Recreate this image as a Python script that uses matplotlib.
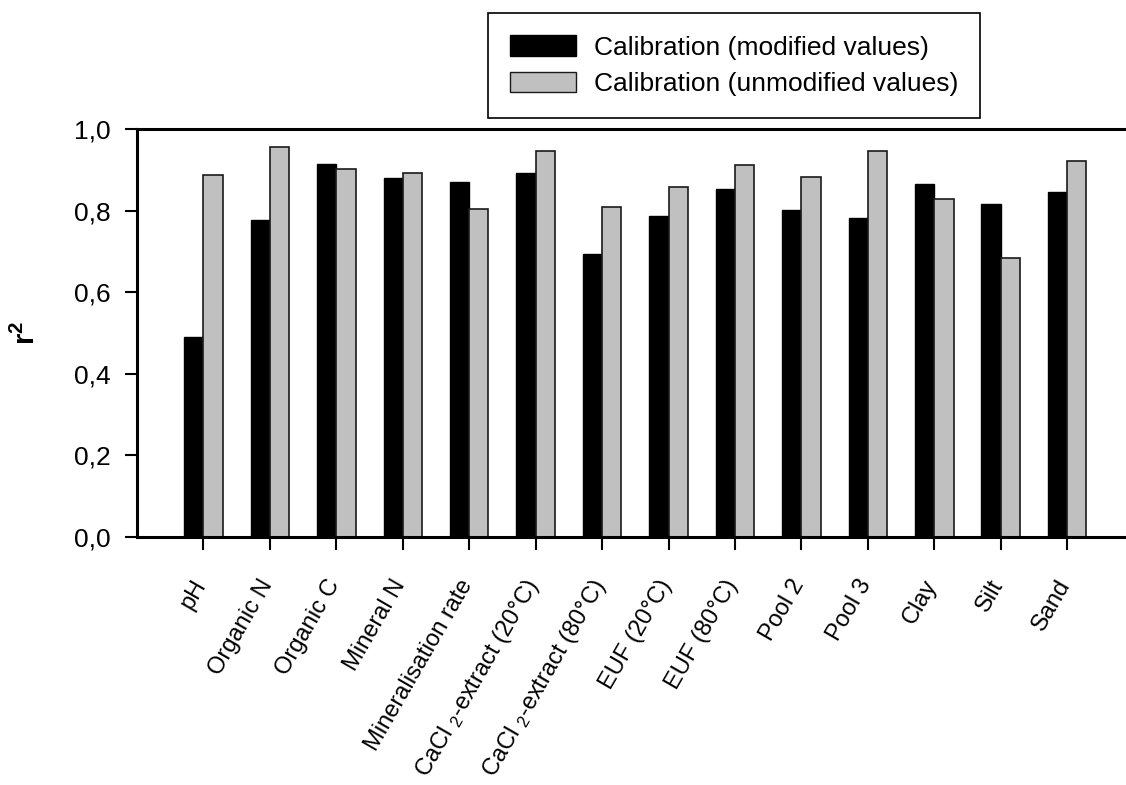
import numpy as np
import matplotlib
matplotlib.use("Agg")
import matplotlib.pyplot as plt
import matplotlib.transforms as mtransforms
from matplotlib.patches import Patch

plt.rcParams["font.family"] = ["Liberation Sans", "DejaVu Sans"]
plt.rcParams["mathtext.fontset"] = "custom"
plt.rcParams["mathtext.rm"] = "Liberation Sans"
plt.rcParams["mathtext.it"] = "Liberation Sans"
plt.rcParams["mathtext.bf"] = "Liberation Sans:bold"

parameters = [
    "pH", "Organic N", "Organic C", "Mineral N", "Mineralisation rate",
    "CaCl $_2$-extract (20°C)", "CaCl $_2$-extract (80°C)",
    "EUF (20°C)", "EUF (80°C)", "Pool 2", "Pool 3", "Clay", "Silt", "Sand",
]
r2_modified = [0.489, 0.777, 0.913, 0.879, 0.869, 0.893, 0.693,
               0.786, 0.854, 0.801, 0.781, 0.864, 0.815, 0.845]
r2_unmodified = [0.887, 0.956, 0.902, 0.892, 0.804, 0.946, 0.809,
                 0.858, 0.912, 0.882, 0.946, 0.829, 0.683, 0.921]

fig = plt.figure(figsize=(11.26, 7.85), dpi=100)
ax = fig.add_axes([0.1217, 0.3159, 0.885, 0.5198])

x = np.arange(len(parameters))
w = 0.29
ax.bar(x - w / 2, r2_modified, w, color="black", edgecolor="black", linewidth=1.0)
ax.bar(x + w / 2, r2_unmodified, w, color="#c0c0c0", edgecolor="#1a1a1a", linewidth=1.2)

ax.set_xlim(-1, 14)
ax.set_ylim(0, 1.0)
yt = np.arange(0, 1.01, 0.2)
ax.set_yticks(yt)
ax.set_yticklabels([f"{v:.1f}".replace(".", ",") for v in yt], fontsize=19)
ax.set_xticks(x)
ax.set_xticklabels(parameters, rotation=60, ha="right", va="center",
                   rotation_mode="anchor", fontsize=17)
ax.tick_params(axis="both", direction="out", length=9, width=1.5)
ax.tick_params(axis="y", pad=10)
ax.tick_params(axis="x", pad=23)

# nudge the slanted category labels a little to the left
shift = mtransforms.ScaledTranslation(-2 / 100, 0, fig.dpi_scale_trans)
for lab in ax.get_xticklabels():
    lab.set_transform(lab.get_transform() + shift)

for side in ["left", "bottom", "top"]:
    ax.spines[side].set_linewidth(2.2)
ax.spines["right"].set_visible(False)

ax.set_ylabel("$\\mathbf{r^{2}}$", fontsize=21, labelpad=24)

handles = [
    Patch(facecolor="black", edgecolor="black", label="Calibration (modified values)"),
    Patch(facecolor="#c0c0c0", edgecolor="#1a1a1a", label="Calibration (unmodified values)"),
]
leg = fig.legend(handles=handles, loc="upper left",
                 bbox_to_anchor=(488 / 1126, 1 - 13 / 785), borderaxespad=0,
                 fontsize=19, handlelength=2.5, handleheight=0.8,
                 handletextpad=0.65, borderpad=0.85, labelspacing=0.45,
                 fancybox=False, framealpha=1, edgecolor="black")
leg.get_frame().set_linewidth(1.2)

plt.savefig("out.png", dpi=100)
